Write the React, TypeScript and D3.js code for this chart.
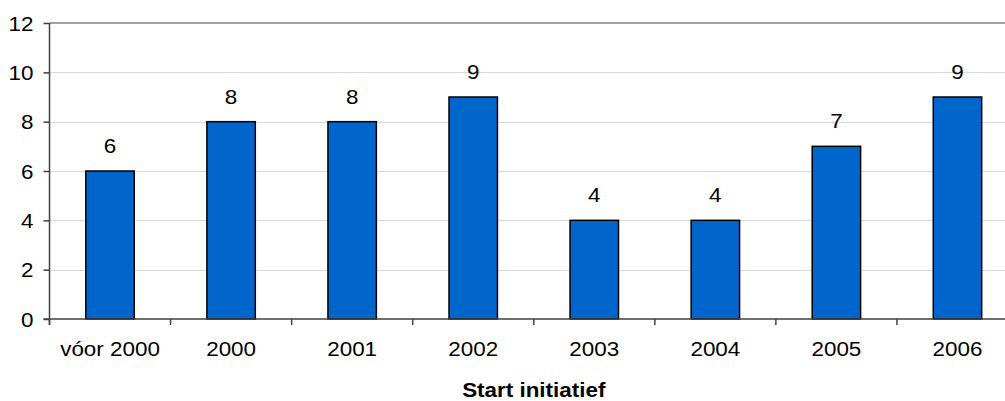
import { useEffect, useRef } from "react";
import * as d3 from "d3";

// data
const categories = ["vóor 2000", "2000", "2001", "2002", "2003", "2004", "2005", "2006"];
const counts = [6, 8, 8, 9, 4, 4, 7, 9];
const yTicks = [0, 2, 4, 6, 8, 10, 12];
const xTitle = "Start initiatief";

export default function App() {
    const svgRef = useRef<SVGSVGElement | null>(null);

    useEffect(() => {
        const width = 1005;
        const height = 401;
        const marginTop = 23;
        const marginLeft = 49.5;
        const plotRight = 1018; // plot runs past the right edge of the picture
        const baseline = 319;
        const stretch = 1.15;
        const font = "'Liberation Sans', Arial, sans-serif";

        const x = d3.scaleBand<string>()
            .domain(categories)
            .range([marginLeft, plotRight])
            .paddingInner(0.6)
            .paddingOuter(0.3);

        const y = d3.scaleLinear()
            .domain([0, 12])
            .range([baseline, marginTop]);

        const svg = d3.select(svgRef.current)
            .attr("width", width)
            .attr("height", height)
            .attr("viewBox", `0 0 ${width} ${height}`);

        svg.selectAll("*").remove();

        // gridlines
        svg.append("g")
            .selectAll("line")
            .data(yTicks.filter(t => t > 0 && t < 12))
            .join("line")
            .attr("x1", marginLeft)
            .attr("x2", plotRight)
            .attr("y1", d => Math.round(y(d)) + 0.5)
            .attr("y2", d => Math.round(y(d)) + 0.5)
            .attr("stroke", "#d9d9d9")
            .attr("stroke-width", 1);

        // top border of the plot area
        svg.append("line")
            .attr("x1", marginLeft)
            .attr("x2", plotRight)
            .attr("y1", y(12))
            .attr("y2", y(12))
            .attr("stroke", "#808080")
            .attr("stroke-width", 1.5);

        // bars
        svg.append("g")
            .selectAll("rect")
            .data(counts)
            .join("rect")
            .attr("x", (d, i) => x(categories[i])!)
            .attr("y", d => y(d))
            .attr("width", x.bandwidth())
            .attr("height", d => baseline - y(d))
            .attr("fill", "#0066cc")
            .attr("stroke", "#000")
            .attr("stroke-width", 1.5);

        // value labels
        svg.append("g")
            .selectAll("text")
            .data(counts)
            .join("text")
            .attr("transform", (d, i) =>
                `translate(${x(categories[i])! + x.bandwidth() / 2},${y(d) - 18}) scale(${stretch},1)`)
            .attr("text-anchor", "middle")
            .attr("font-family", font)
            .attr("font-size", 19.5)
            .attr("fill", "#000")
            .text(d => d);

        // y axis
        const yAxis = svg.append("g")
            .attr("transform", `translate(${marginLeft},0)`)
            .call(d3.axisLeft(y).tickValues(yTicks).tickSize(6).tickPadding(10).tickFormat(d3.format("d")));
        yAxis.select(".domain").attr("stroke", "#404040").attr("stroke-width", 1.5)
            .attr("d", `M0,${y(12)}V${baseline + 6}`);
        yAxis.selectAll(".tick line").attr("stroke", "#404040").attr("stroke-width", 1.5);
        yAxis.selectAll(".tick text")
            .attr("font-family", font)
            .attr("font-size", 19.5)
            .attr("fill", "#000")
            .attr("dy", "0.36em")
            .attr("transform", `scale(${stretch},1)`)
            .attr("x", -16 / stretch);

        // x axis line and boundary ticks
        const step = x.step();
        const offset = (step - x.bandwidth()) / 2;
        const bounds = categories.map(c => x(c)! - offset).concat([x(categories[categories.length - 1])! - offset + step]);
        const xAxis = svg.append("g");
        xAxis.append("line")
            .attr("x1", marginLeft - 6)
            .attr("x2", plotRight)
            .attr("y1", baseline)
            .attr("y2", baseline)
            .attr("stroke", "#404040")
            .attr("stroke-width", 1.5);
        xAxis.selectAll(".bound")
            .data(bounds)
            .join("line")
            .attr("class", "bound")
            .attr("x1", d => d)
            .attr("x2", d => d)
            .attr("y1", baseline)
            .attr("y2", baseline + 6)
            .attr("stroke", "#404040")
            .attr("stroke-width", 1.5);
        xAxis.selectAll(".cat")
            .data(categories)
            .join("text")
            .attr("class", "cat")
            .attr("transform", d => `translate(${x(d)! + x.bandwidth() / 2},356) scale(${stretch},1)`)
            .attr("text-anchor", "middle")
            .attr("font-family", font)
            .attr("font-size", 19.5)
            .attr("fill", "#000")
            .text(d => d);

        // axis title
        svg.append("text")
            .attr("transform", `translate(${(marginLeft + plotRight) / 2},397) scale(${stretch},1)`)
            .attr("text-anchor", "middle")
            .attr("font-family", font)
            .attr("font-size", 19.5)
            .attr("font-weight", "bold")
            .attr("fill", "#000")
            .text(xTitle);
    }, []);

    return (
        <div style={{ position: "absolute", left: 0, top: 0, width: 1005, height: 401, background: "#fff" }}>
            <svg ref={svgRef} style={{ display: "block" }} />
        </div>
    );
}
